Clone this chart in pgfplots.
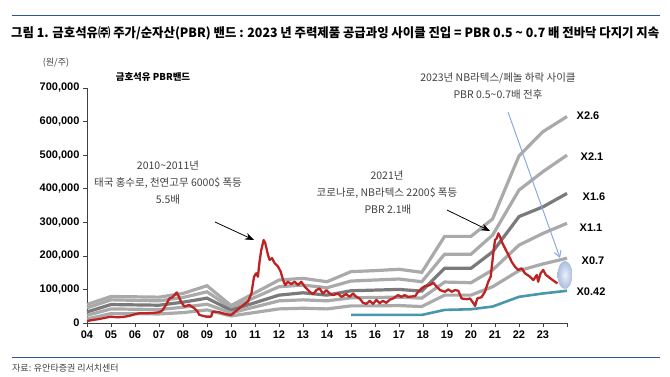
\documentclass[border=0pt]{standalone}
\usepackage{fontspec}
\setmainfont{Liberation Sans}
\newfontfamily\kr{Noto Sans CJK KR}
\usepackage{pgfplots}
\usepackage{pgfplotstable}
\pgfplotsset{compat=1.18}
\usetikzlibrary{arrows.meta}
\definecolor{bandgray}{RGB}{170,170,170}
\definecolor{banddark}{RGB}{122,122,122}
\definecolor{pricered}{RGB}{190,35,35}
\definecolor{tealline}{RGB}{72,152,172}
\definecolor{rulecol}{RGB}{47,85,151}
\definecolor{annot}{RGB}{64,64,64}
\definecolor{arrowblue}{RGB}{140,170,220}
\definecolor{ellin}{RGB}{235,240,250}
\definecolor{ellout}{RGB}{170,188,222}

\pgfplotstableread{
x y
2004 55000
2005 79000
2007 77000
2008 88000
2009 111000
2010 52000
2012 128000
2013 133000
2014 123000
2015 153000
2016 156000
2017 160000
2017.95 151000
2018.9 258000
2020 258000
2020.9 310000
2022 498000
2023 570000
2024 615000
}\bandA
\pgfplotstableread{
x y
2004 45000
2005 69000
2007 66000
2008 76000
2009 93000
2010 45000
2012 108000
2013 113000
2014 105000
2015 125000
2016 128000
2017 131000
2017.95 123000
2018.9 205000
2020 205000
2020.9 262000
2022 396000
2023 451000
2024 500000
}\bandB
\pgfplotstableread{
x y
2004 33000
2005 55000
2007 53000
2008 62000
2009 74000
2010 38000
2012 83000
2013 90000
2014 83000
2015 96000
2016 98000
2017 100000
2017.95 95000
2018.9 163000
2020 163000
2020.9 212000
2022 317000
2023 346000
2024 386000
}\bandC
\pgfplotstableread{
x y
2004 23000
2005 42000
2007 40000
2008 47000
2009 56000
2010 30000
2012 66000
2013 69000
2014 66000
2015 75000
2016 76000
2017 77000
2017.95 74000
2018.9 122000
2020 120000
2020.9 158000
2022 232000
2023 267000
2024 297000
}\bandD
\pgfplotstableread{
x y
2004 12000
2005 28000
2007 27000
2008 31000
2009 39000
2010 21000
2012 42000
2013 44000
2014 42000
2015 51000
2016 51000
2017 52000
2017.95 49000
2018.9 83000
2020 83000
2020.9 108000
2022 156000
2023 176000
2024 193000
}\bandE
\pgfplotstableread{
x y
2015 24000
2017.95 24000
2018.9 39000
2020 41000
2020.9 49000
2022 78000
2023 88000
2024 96000
}\bandF
\pgfplotstableread{
x y
2004.00 6000
2004.25 9000
2004.51 12000
2004.79 16000
2005.00 19000
2005.25 17000
2005.50 18000
2005.75 21000
2005.99 26000
2006.18 29000
2006.50 29000
2006.75 30000
2007.01 32000
2007.15 38000
2007.29 54000
2007.43 73000
2007.55 76000
2007.74 91000
2007.85 75000
2007.92 63000
2008.06 49000
2008.26 54000
2008.47 44000
2008.60 35000
2008.68 24000
2008.96 19000
2009.17 19000
2009.24 34000
2009.51 32000
2009.79 26000
2010.01 24000
2010.43 49000
2010.71 64000
2010.85 88000
2010.96 138000
2011.05 148000
2011.12 138000
2011.19 183000
2011.26 217000
2011.36 247000
2011.43 237000
2011.54 203000
2011.61 188000
2011.71 193000
2011.82 178000
2011.96 168000
2012.07 153000
2012.17 128000
2012.26 113000
2012.37 123000
2012.51 116000
2012.65 123000
2012.79 113000
2012.93 123000
2013.07 108000
2013.28 93000
2013.42 86000
2013.56 98000
2013.69 103000
2013.83 88000
2013.97 98000
2014.11 88000
2014.25 83000
2014.46 88000
2014.60 78000
2014.80 86000
2014.94 78000
2015.08 88000
2015.22 78000
2015.36 73000
2015.50 60000
2015.64 57000
2015.78 66000
2015.92 57000
2016.06 69000
2016.19 59000
2016.33 66000
2016.47 60000
2016.61 69000
2016.75 73000
2016.96 83000
2017.10 78000
2017.24 83000
2017.37 78000
2017.67 80000
2017.80 93000
2017.94 103000
2018.08 110000
2018.29 113000
2018.43 120000
2018.57 108000
2018.71 98000
2018.92 93000
2019.05 100000
2019.20 93000
2019.33 98000
2019.47 96000
2019.61 73000
2019.82 71000
2019.96 73000
2020.10 59000
2020.17 51000
2020.26 73000
2020.44 77000
2020.58 93000
2020.72 123000
2020.82 138000
2020.93 208000
2021.00 247000
2021.07 252000
2021.14 267000
2021.21 257000
2021.28 242000
2021.42 222000
2021.56 203000
2021.69 183000
2021.83 168000
2021.97 158000
2022.11 163000
2022.25 148000
2022.46 138000
2022.60 128000
2022.74 143000
2022.80 123000
2022.90 148000
2023.01 158000
2023.12 143000
2023.22 138000
2023.36 130000
2023.50 123000
2023.60 118000
}\price

\begin{document}
\begin{tikzpicture}[x=1pt,y=1pt]
\path[use as bounding box] (0,0) rectangle (670,376);
% rules
\draw[rulecol, line width=1pt] (12,361) -- (660,361);
\draw[rulecol, line width=1pt] (12,19) -- (660,19);
\node[anchor=base west, inner sep=0pt] at (11,339)
 {\resizebox{648pt}{11pt}{\kr\bfseries 그림 1. 금호석유㈜ 주가/순자산(PBR) 밴드 : 2023 년 주력제품 공급과잉 사이클 진입 = PBR 0.5 \textasciitilde{} 0.7 배 전바닥 다지기 지속}};
\node[anchor=west, inner sep=0pt, text=annot, font=\kr\fontsize{9}{10}\selectfont] at (12,8) {자료: 유안타증권 리서치센터};
\node[inner sep=0pt, text=annot, font=\kr\fontsize{9}{10}\selectfont] at (56,313) {(원/주)};
\node[inner sep=0pt, font=\kr\bfseries\fontsize{9.5}{10}\selectfont] at (153,299) {금호석유 PBR밴드};

\begin{axis}[
  at={(87pt,53pt)}, anchor=south west,
  scale only axis, width=480pt, height=235pt,
  xmin=2004, xmax=2024, ymin=0, ymax=700000,
  axis x line*=bottom, axis y line*=left,
  axis line style={-, black!75, line width=0.8pt},
  tick style={black!75, line width=0.6pt},
  tick align=outside, major tick length=4pt,
  xtick={2004,2005,...,2024},
  xticklabels={04,05,06,07,08,09,10,11,12,13,14,15,16,17,18,19,20,21,22,23,{}},
  ytick={0,100000,...,700000},
  scaled y ticks=false,
  yticklabel style={/pgf/number format/.cd, fixed, 1000 sep={,}},
  /pgf/number format/assume math mode=true,
  ticklabel style={font=\bfseries\fontsize{11}{12}\selectfont},
  clip=false,
]
\addplot[bandgray, line width=3.2pt] table[x=x,y=y] {\bandA};
\addplot[bandgray, line width=3.2pt] table[x=x,y=y] {\bandB};
\addplot[banddark, line width=3.2pt] table[x=x,y=y] {\bandC};
\addplot[bandgray, line width=3.2pt] table[x=x,y=y] {\bandD};
\addplot[bandgray, line width=3.2pt] table[x=x,y=y] {\bandE};
\addplot[tealline, line width=2.6pt] table[x=x,y=y] {\bandF};
\addplot[pricered, line width=2.3pt, line join=round] table[x=x,y=y] {\price};
\end{axis}

% annotations
\begin{scope}[every node/.style={inner sep=0pt, text=annot, font=\kr\fontsize{10.5}{12}\selectfont}]
\node at (168,211) {2010\textasciitilde2011년};
\node at (168,193) {태국 홍수로, 천연고무 6000\$ 폭등};
\node at (168,176) {5.5배};
\node at (387,201) {2021년};
\node at (387,183) {코로나로, NB라텍스 2200\$ 폭등};
\node at (388,166) {PBR 2.1배};
\node at (498,298) {2023년 NB라텍스/페놀 하락 사이클};
\node at (498,281) {PBR 0.5\textasciitilde0.7배 전후};
\end{scope}
\draw[black, line width=0.8pt, -{Stealth[length=9pt,width=7pt]}] (215,154) -- (254,136);
\draw[black, line width=0.8pt, -{Stealth[length=9pt,width=7pt]}] (447,166) -- (490,145);
\draw[arrowblue, line width=1pt, -{Straight Barb[length=6pt,width=7pt]}] (508,264) -- (560,118);
\shade[inner color=ellin, outer color=ellout] (565,101) ellipse [x radius=7.5, y radius=14];

\begin{scope}[every node/.style={inner sep=0pt, font=\bfseries\fontsize{11}{12}\selectfont}]
\node at (588,260) {X2.6};
\node at (592,219) {X2.1};
\node at (594,179) {X1.6};
\node at (591,148) {X1.1};
\node at (593,115) {X0.7};
\node at (591,84) {X0.42};
\end{scope}
\end{tikzpicture}
\end{document}
